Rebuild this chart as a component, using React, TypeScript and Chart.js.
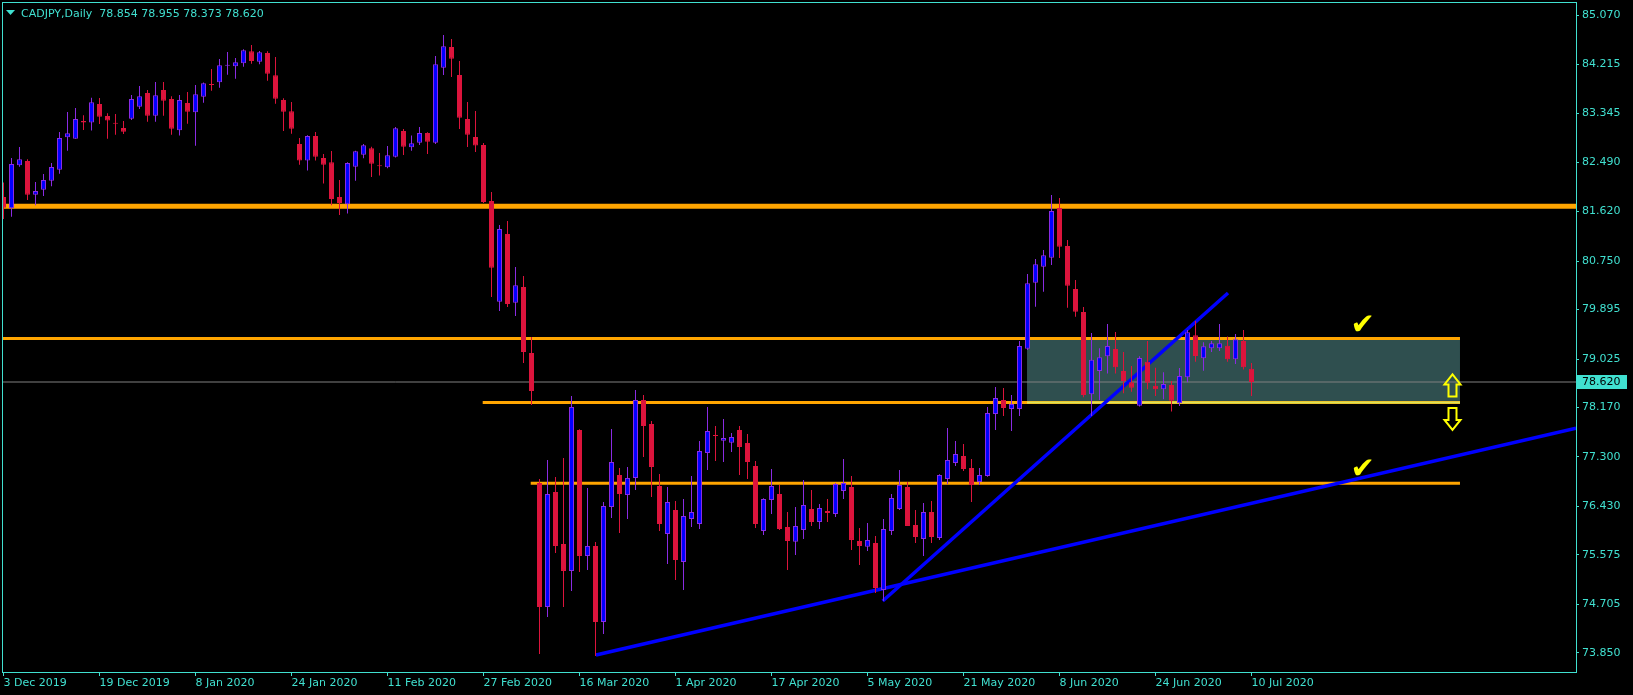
import React, { useEffect, useRef } from 'react';
import { Chart, registerables } from 'chart.js';

Chart.register(...registerables);

// ---- data ----
const symbolTitle = 'CADJPY,Daily';
const barsPerLabel = 12;
const dateLabels = [
  '3 Dec 2019', '19 Dec 2019', '8 Jan 2020', '24 Jan 2020', '11 Feb 2020', '27 Feb 2020',
  '16 Mar 2020', '1 Apr 2020', '17 Apr 2020', '5 May 2020', '21 May 2020', '8 Jun 2020',
  '24 Jun 2020', '10 Jul 2020',
];
const priceTicks = [73.85, 74.705, 75.575, 76.43, 77.3, 78.17, 79.025, 79.895, 80.75, 81.62, 82.49, 83.345, 84.215, 85.07];

const opens = [
  81.877, 81.677, 82.434, 82.511, 81.918, 82.006, 82.164, 82.358, 82.927, 82.904,
  83.215, 83.186, 83.514, 83.303, 83.18, 83.091, 83.256, 83.467, 83.707, 83.308,
  83.76, 83.602, 83.05, 83.531, 83.367, 83.643, 83.866, 83.895, 84.189, 84.177,
  84.229, 84.441, 84.259, 84.412, 84.018, 83.584, 83.385, 82.81, 82.517, 82.951,
  82.564, 82.487, 81.877, 81.748, 82.411, 82.622, 82.733, 82.429, 82.399, 82.587,
  83.039, 82.751, 82.833, 83.004, 82.833, 84.153, 84.517, 84.024, 83.25, 82.933,
  82.792, 81.806, 80.034, 81.226, 80.017, 80.293, 79.131, 76.843, 74.66, 76.684,
  75.769, 75.294, 77.776, 75.558, 75.734, 74.396, 76.42, 76.984, 76.632, 76.931,
  78.304, 77.881, 76.79, 75.945, 76.367, 75.452, 76.209, 76.121, 77.371, 77.682,
  77.588, 77.553, 77.776, 77.547, 77.142, 75.998, 76.544, 76.649, 76.068, 75.81,
  76.016, 76.385, 76.156, 76.35, 76.297, 76.702, 76.772, 75.822, 75.722, 75.787,
  74.959, 75.998, 76.385, 76.772, 76.104, 75.857, 76.332, 75.875, 76.913, 77.195,
  77.318, 77.107, 76.86, 76.966, 78.057, 78.304, 78.146, 78.146, 79.207, 80.369,
  80.65, 80.809, 81.683, 81.014, 80.257, 79.852, 78.403, 78.814, 79.072, 79.201,
  78.814, 78.615, 78.204, 78.978, 78.556, 78.492, 78.568, 78.245, 78.702, 79.442,
  79.037, 79.213, 79.213, 79.26, 79.02, 79.342, 78.854,
];
const highs = [
  82.13, 82.563, 82.757, 82.54, 82.141, 82.282, 82.475, 83.021, 83.373, 83.443,
  83.314, 83.625, 83.62, 83.35, 83.338, 83.215, 83.672, 83.831, 83.76, 83.901,
  83.901, 83.649, 83.672, 83.725, 83.848, 83.89, 84.13, 84.306, 84.429, 84.324,
  84.476, 84.553, 84.447, 84.441, 84.341, 83.614, 83.549, 82.916, 82.963, 83.021,
  82.634, 82.687, 82.176, 82.487, 82.692, 82.81, 82.763, 82.651, 82.775, 83.109,
  83.074, 82.957, 83.109, 83.015, 84.359, 84.728, 84.658, 84.271, 83.549, 83.39,
  82.827, 81.964, 81.384, 81.455, 80.643, 80.487, 79.413, 76.913, 77.248, 76.949,
  77.283, 78.374, 77.788, 76.755, 75.804, 76.508, 77.793, 77.107, 77.125, 78.48,
  78.392, 77.934, 77.001, 76.772, 76.526, 76.561, 76.966, 77.582, 78.181, 77.846,
  77.97, 77.723, 77.846, 77.705, 77.23, 76.573, 77.089, 76.808, 76.332, 76.42,
  76.896, 76.72, 76.473, 76.561, 76.843, 77.265, 76.966, 76.051, 76.139, 75.91,
  76.209, 76.649, 77.072, 76.86, 76.368, 76.491, 76.526, 76.995, 77.811, 77.582,
  77.53, 77.265, 77.107, 78.181, 78.533, 78.515, 78.392, 79.342, 80.521, 80.785,
  80.944, 81.912, 81.859, 81.12, 80.416, 79.94, 79.483, 79.213, 79.641, 79.5,
  79.148, 78.902, 79.072, 79.342, 78.873, 78.79, 78.638, 78.867, 79.536, 79.694,
  79.319, 79.342, 79.641, 79.419, 79.465, 79.536, 78.955,
];
const lows = [
  81.49, 81.531, 82.41, 81.824, 81.73, 81.894, 82.065, 82.288, 82.692, 82.9,
  83.056, 83.045, 83.162, 82.904, 82.974, 82.986, 83.232, 83.426, 83.203, 83.203,
  83.308, 82.974, 82.957, 83.168, 82.78, 83.537, 83.748, 83.801, 84.03, 83.96,
  84.171, 84.224, 84.212, 83.925, 83.519, 83.039, 82.992, 82.446, 82.341, 82.517,
  82.112, 81.73, 81.56, 81.584, 82.164, 82.558, 82.229, 82.253, 82.381, 82.57,
  82.616, 82.692, 82.792, 82.634, 82.81, 84.024, 83.989, 83.074, 82.757, 82.669,
  81.771, 80.116, 79.87, 79.94, 79.782, 78.955, 78.216, 73.833, 74.484, 75.611,
  74.66, 74.942, 75.276, 75.311, 73.798, 74.185, 76.227, 75.963, 76.209, 76.72,
  77.301, 76.596, 75.998, 75.417, 75.135, 74.959, 76.068, 76.033, 77.072, 77.23,
  77.212, 77.389, 76.984, 76.913, 76.051, 75.928, 76.297, 76.016, 75.311, 75.576,
  75.857, 76.086, 76.033, 76.156, 76.244, 76.561, 75.664, 75.399, 75.646, 74.907,
  74.766, 75.928, 76.368, 76.086, 75.787, 75.558, 75.787, 75.84, 76.825, 77.142,
  77.054, 76.508, 76.808, 76.954, 77.776, 78.022, 77.758, 78.022, 79.184, 79.946,
  80.21, 80.68, 80.803, 79.929, 79.77, 78.35, 78.022, 78.304, 78.77, 78.77,
  78.421, 78.45, 78.19, 78.492, 78.374, 78.316, 78.099, 78.198, 78.614, 78.978,
  78.82, 79.149, 79.166, 78.978, 78.937, 78.838, 78.373,
];
const closes = [
  81.689, 82.458, 82.54, 81.918, 81.983, 82.176, 82.405, 82.916, 82.998, 83.25,
  83.186, 83.543, 83.291, 83.221, 83.168, 83.027, 83.602, 83.649, 83.308, 83.666,
  83.572, 83.08, 83.584, 83.379, 83.684, 83.878, 83.848, 84.195, 84.195, 84.247,
  84.459, 84.271, 84.423, 84.048, 83.608, 83.379, 83.08, 82.517, 82.951, 82.587,
  82.446, 81.842, 81.771, 82.475, 82.681, 82.786, 82.464, 82.417, 82.61, 83.086,
  82.763, 82.821, 83.004, 82.851, 84.212, 84.529, 84.312, 83.273, 82.974, 82.781,
  81.789, 80.632, 81.314, 79.993, 80.322, 79.149, 78.462, 74.66, 76.649, 75.734,
  75.294, 78.181, 75.558, 75.734, 74.396, 76.438, 77.212, 76.649, 76.931, 78.304,
  77.846, 77.125, 76.121, 76.508, 75.487, 76.262, 76.332, 77.406, 77.758, 77.67,
  77.635, 77.653, 77.477, 77.212, 76.121, 76.561, 76.79, 76.033, 75.822, 76.086,
  76.456, 76.156, 76.403, 76.315, 76.825, 76.843, 75.84, 75.734, 75.84, 74.995,
  76.033, 76.579, 76.808, 76.086, 75.892, 76.332, 75.892, 76.984, 77.248, 77.353,
  77.089, 76.808, 76.984, 78.075, 78.339, 78.163, 78.234, 79.254, 80.357, 80.691,
  80.85, 81.63, 81.003, 80.316, 79.858, 78.39, 79.013, 79.054, 79.254, 78.88,
  78.638, 78.521, 79.043, 78.609, 78.492, 78.586, 78.292, 78.726, 79.495, 79.078,
  79.248, 79.301, 79.301, 79.02, 79.372, 78.879, 78.62,
];

// drawn levels (price) and their bar-index extents
const resistanceLevel = 81.715;
const zoneTop = 79.386;
const zoneBottom = 78.26;
const supportLevel = 76.837;
const zoneStartBar = 127.94;
const levelsEndBar = 182.06;
const zoneBottomLineStart = 59.9;
const supportLineStart = 65.9;
const trendLong = [{ x: 74.06, y: 73.815 }, { x: 196.5625, y: 77.806 }];
const trendShort = [{ x: 109.9, y: 74.765 }, { x: 153.06, y: 80.187 }];
const checkMarks = [{ x: 169.9, y: 79.606 }, { x: 169.9, y: 77.071 }];
const arrowMarks = [{ x: 181, y: 78.559, dir: -1 }, { x: 181, y: 77.969, dir: 1 }];

// axis ranges
const X_MIN = -0.1875;
const X_MAX = 196.5625;
const Y_MIN = 73.5155;
const Y_MAX = 85.309;

const TURQ = '#40E0D0';
const FONT = 'DejaVu Sans';

export default function App() {
  const ref = useRef<HTMLCanvasElement>(null);

  useEffect(() => {
    const canvas = ref.current;
    if (!canvas) return;
    const n = closes.length;
    const idx = closes.map((_, i) => i);
    const bull = (i: number) => closes[i] >= opens[i];
    const last = closes[n - 1];

    const seg = (x0: number, x1: number, v: number) => [{ x: x0, y: v }, { x: x1, y: v }];
    const line = (label: string, data: any[], color: string, width: number, order: number, extra: any = {}) => ({
      type: 'line', label, data, borderColor: color, borderWidth: width, pointRadius: 0, pointHoverRadius: 0,
      fill: false, tension: 0, order, ...extra,
    });

    const overlay = {
      id: 'overlay',
      afterDatasetsDraw(chart: any) {
        const { ctx, scales } = chart;
        const xs = scales.x, ys = scales.y;
        ctx.save();
        ctx.fillStyle = '#FFFF00';
        ctx.font = `29px "${FONT}"`;
        ctx.textAlign = 'center';
        ctx.textBaseline = 'middle';
        checkMarks.forEach((c) => ctx.fillText('✔', xs.getPixelForValue(c.x), ys.getPixelForValue(c.y)));
        ctx.strokeStyle = '#FFFF00';
        ctx.lineWidth = 2;
        ctx.lineJoin = 'miter';
        arrowMarks.forEach((a) => {
          const cx = Math.round(xs.getPixelForValue(a.x)) + 0.5;
          const cy = ys.getPixelForValue(a.y);
          const d = a.dir;
          ctx.beginPath();
          ctx.moveTo(cx, cy + d * 11);
          ctx.lineTo(cx + 8, cy + d * 1);
          ctx.lineTo(cx + 4, cy + d * 1);
          ctx.lineTo(cx + 4, cy - d * 11);
          ctx.lineTo(cx - 4, cy - d * 11);
          ctx.lineTo(cx - 4, cy + d * 1);
          ctx.lineTo(cx - 8, cy + d * 1);
          ctx.closePath();
          ctx.stroke();
        });
        ctx.restore();
      },
      afterDraw(chart: any) {
        const { ctx, chartArea: a, scales } = chart;
        ctx.save();
        ctx.strokeStyle = TURQ;
        ctx.lineWidth = 1;
        ctx.strokeRect(a.left + 0.5, a.top + 0.5, a.right - a.left, a.bottom - a.top);
        // current price tag
        const py = scales.y.getPixelForValue(last);
        ctx.fillStyle = TURQ;
        ctx.fillRect(a.right + 1, py - 7, 50, 14);
        ctx.fillStyle = '#000';
        ctx.font = `11px "${FONT}"`;
        ctx.textAlign = 'left';
        ctx.textBaseline = 'middle';
        ctx.fillText(last.toFixed(3), a.right + 6, py + 0.5);
        // title
        ctx.fillStyle = TURQ;
        ctx.beginPath();
        ctx.moveTo(6, 10);
        ctx.lineTo(15, 10);
        ctx.lineTo(10.5, 15);
        ctx.closePath();
        ctx.fill();
        ctx.textBaseline = 'alphabetic';
        ctx.fillText(
          `${symbolTitle}  ${opens[n - 1].toFixed(3)} ${highs[n - 1].toFixed(3)} ${lows[n - 1].toFixed(3)} ${last.toFixed(3)}`,
          21, 17,
        );
        ctx.restore();
      },
    };

    const chart = new Chart(canvas, {
      type: 'bar',
      data: {
        datasets: [
          line('zoneFill', seg(zoneStartBar, levelsEndBar, zoneTop), 'rgba(0,0,0,0)', 0, 20, {
            fill: '+1', backgroundColor: '#2F4F4F',
          }),
          line('zoneBase', seg(zoneStartBar, levelsEndBar, zoneBottom), 'rgba(0,0,0,0)', 0, 19),
          line('resistance', seg(X_MIN, X_MAX, resistanceLevel), '#FFA500', 5, 9),
          line('zoneTopLine', seg(X_MIN, levelsEndBar, zoneTop), '#FFA500', 3, 9),
          line('zoneBottomLine', seg(zoneBottomLineStart, levelsEndBar, zoneBottom), '#FFA500', 3, 9),
          line('support', seg(supportLineStart, levelsEndBar, supportLevel), '#FFA500', 3, 9),
          line('zoneEdge', seg(zoneStartBar, levelsEndBar, zoneBottom), '#D8E35A', 2, 8),
          line('price', seg(X_MIN, X_MAX, last), '#808080', 1, 7),
          line('trendLong', trendLong, '#0000FF', 3.5, 6),
          line('trendShort', trendShort, '#0000FF', 3.5, 6),
          {
            type: 'bar', label: 'wick',
            data: idx.map((i) => ({ x: i, y: [lows[i], highs[i]] })),
            backgroundColor: idx.map((i) => (bull(i) ? '#8A2BE2' : '#DC143C')),
            borderWidth: 0, barThickness: 1, grouped: false, inflateAmount: 0, order: 2,
          },
          {
            type: 'bar', label: 'body',
            data: idx.map((i) => ({ x: i, y: [opens[i], closes[i]] })),
            backgroundColor: idx.map((i) => (bull(i) ? '#0000FF' : '#DC143C')),
            borderColor: idx.map((i) => (bull(i) ? '#8A2BE2' : '#DC143C')),
            borderWidth: 1, borderSkipped: false, barThickness: 5, minBarLength: 1,
            grouped: false, inflateAmount: 0, order: 1,
          },
        ] as any,
      },
      options: {
        responsive: false,
        animation: false,
        devicePixelRatio: 1,
        events: [],
        layout: { padding: { left: 2, top: 2, right: 0, bottom: 0 } },
        plugins: { legend: { display: false }, tooltip: { enabled: false }, title: { display: false } },
        scales: {
          x: {
            type: 'linear', min: X_MIN, max: X_MAX, offset: false, position: 'bottom',
            afterBuildTicks: (s: any) => { s.ticks = dateLabels.map((_, k) => ({ value: k * barsPerLabel })); },
            afterFit: (s: any) => { s.height = 23; s.paddingLeft = 0; s.paddingRight = 0; },
            grid: { display: true, drawOnChartArea: false, drawTicks: true, tickLength: 4, color: TURQ, offset: false },
            border: { display: true, color: TURQ, width: 1 },
            ticks: {
              color: TURQ, font: { family: FONT, size: 11 }, autoSkip: false, maxRotation: 0, minRotation: 0,
              align: 'start', padding: 1,
              callback: (v: any) => dateLabels[Math.round(Number(v) / barsPerLabel)] ?? '',
            },
          },
          y: {
            type: 'linear', position: 'right', min: Y_MIN, max: Y_MAX, beginAtZero: false,
            afterBuildTicks: (s: any) => { s.ticks = priceTicks.map((v) => ({ value: v })); },
            afterFit: (s: any) => { s.width = 57; s.paddingTop = 0; s.paddingBottom = 0; },
            grid: { display: true, drawOnChartArea: false, drawTicks: true, tickLength: 3, color: TURQ },
            border: { display: true, color: TURQ, width: 1 },
            ticks: { color: TURQ, font: { family: FONT, size: 11 }, padding: 3, callback: (v: any) => Number(v).toFixed(3) },
          },
        },
      } as any,
      plugins: [overlay],
    });
    return () => chart.destroy();
  }, []);

  return (
    <div style={{ position: 'fixed', left: 0, top: 0, width: 1633, height: 695, background: '#000' }}>
      <canvas ref={ref} width={1633} height={695} style={{ display: 'block', width: 1633, height: 695 }} />
    </div>
  );
}
